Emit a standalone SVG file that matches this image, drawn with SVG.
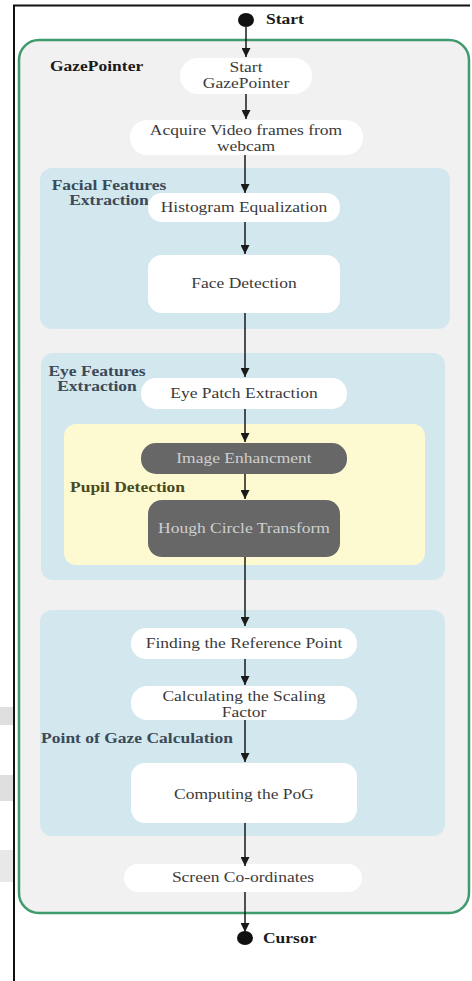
<svg xmlns="http://www.w3.org/2000/svg" width="472" height="981" viewBox="0 0 472 981">
<style>
.frame{fill:none;stroke:#111;stroke-width:2}
.outer{fill:#f1f1f1;stroke:#3f9a6c;stroke-width:2.5}
.region{fill:#d2e7ee}
.pupil{fill:#fdf9d0}
.node{fill:#ffffff}
.dark{fill:#676767}
.t{font-family:"Liberation Serif","Times New Roman",serif;font-size:14px;fill:#3a3a3a;text-anchor:middle}
.td{font-family:"Liberation Serif","Times New Roman",serif;font-size:14px;fill:#cfcfcf;text-anchor:middle}
.lb{font-family:"Liberation Serif","Times New Roman",serif;font-size:14px;font-weight:bold;fill:#3b4a58;text-anchor:middle}
.lbk{font-family:"Liberation Serif","Times New Roman",serif;font-size:14px;font-weight:bold;fill:#1a1a1a;text-anchor:start}
.lbp{font-family:"Liberation Serif","Times New Roman",serif;font-size:14px;font-weight:bold;fill:#4a4a22;text-anchor:start}
.c{stroke:#1a1a1a;stroke-width:1.5;fill:none;marker-end:url(#ah)}
</style>
<defs>
<marker id="ah" viewBox="0 0 10 10" refX="10" refY="5" markerWidth="9" markerHeight="9" markerUnits="userSpaceOnUse" orient="auto">
<path d="M0,0 L10,5 L0,10 z" fill="#1a1a1a"/>
</marker>
</defs>
<rect x="0" y="0" width="472" height="981" fill="#ffffff"/>
<rect x="0" y="707" width="13" height="18" fill="#dedede"/>
<rect x="0" y="775" width="13" height="26" fill="#dedede"/>
<rect x="0" y="850" width="13" height="32" fill="#e8e8e8"/>
<path d="M14,981 L14,5.5 L470,5.5" class="frame"/>

<g id="gazepointer">
<rect class="outer" x="19" y="40" width="450" height="873" rx="20"/>
<text class="lbk" transform="translate(50,71) scale(1.25,1)">GazePointer</text>
</g>

<g id="facial-features-extraction">
<rect class="region" x="40" y="168" width="410" height="161" rx="12"/>
<text class="lb" transform="translate(109,190) scale(1.25,1)">Facial Features</text>
<text class="lb" transform="translate(109,205) scale(1.25,1)">Extraction</text>
</g>

<g id="eye-features-extraction">
<rect class="region" x="41" y="353" width="404" height="227" rx="12"/>
<text class="lb" transform="translate(97,376) scale(1.25,1)">Eye Features</text>
<text class="lb" transform="translate(97,391) scale(1.25,1)">Extraction</text>
</g>

<g id="pupil-detection">
<rect class="pupil" x="64" y="424" width="361" height="141" rx="12"/>
<text class="lbp" transform="translate(70,492) scale(1.25,1)">Pupil Detection</text>
</g>

<g id="point-of-gaze-calculation">
<rect class="region" x="40" y="610" width="405" height="226" rx="12"/>
<text class="lb" transform="translate(137,743) scale(1.25,1)">Point of Gaze Calculation</text>
</g>

<g id="start">
<ellipse cx="246" cy="20" rx="8" ry="7" fill="#111"/>
<text class="lbk" transform="translate(266,24) scale(1.25,1)">Start</text>
</g>

<g id="start-gazepointer">
<rect class="node" x="180" y="58" width="132" height="36" rx="18"/>
<text class="t" transform="translate(246,72) scale(1.25,1)">Start</text>
<text class="t" transform="translate(246,88) scale(1.25,1)">GazePointer</text>
</g>

<g id="acquire-video">
<rect class="node" x="130" y="120" width="233" height="35" rx="17"/>
<text class="t" transform="translate(246,135) scale(1.25,1)">Acquire Video frames from</text>
<text class="t" transform="translate(246,151) scale(1.25,1)">webcam</text>
</g>

<g id="histogram-equalization">
<rect class="node" x="148" y="193" width="192" height="29" rx="14"/>
<text class="t" transform="translate(244,212) scale(1.25,1)">Histogram Equalization</text>
</g>

<g id="face-detection">
<rect class="node" x="148" y="255" width="192" height="58" rx="14"/>
<text class="t" transform="translate(244,288) scale(1.25,1)">Face Detection</text>
</g>

<g id="eye-patch-extraction">
<rect class="node" x="141" y="378" width="206" height="31" rx="15"/>
<text class="t" transform="translate(244,398) scale(1.25,1)">Eye Patch Extraction</text>
</g>

<g id="image-enhancement">
<rect class="dark" x="141" y="443" width="206" height="31" rx="15"/>
<text class="td" transform="translate(244,463) scale(1.25,1)">Image Enhancment</text>
</g>

<g id="hough-circle-transform">
<rect class="dark" x="148" y="500" width="192" height="57" rx="14"/>
<text class="td" transform="translate(244,533) scale(1.25,1)">Hough Circle Transform</text>
</g>

<g id="finding-reference-point">
<rect class="node" x="131" y="628" width="226" height="31" rx="15"/>
<text class="t" transform="translate(244,648) scale(1.25,1)">Finding the Reference Point</text>
</g>

<g id="calculating-scaling-factor">
<rect class="node" x="131" y="686" width="226" height="34" rx="16"/>
<text class="t" transform="translate(244,701) scale(1.25,1)">Calculating the Scaling</text>
<text class="t" transform="translate(244,717) scale(1.25,1)">Factor</text>
</g>

<g id="computing-pog">
<rect class="node" x="131" y="763" width="226" height="60" rx="14"/>
<text class="t" transform="translate(244,799) scale(1.25,1)">Computing the PoG</text>
</g>

<g id="screen-coordinates">
<rect class="node" x="124" y="864" width="238" height="28" rx="14"/>
<text class="t" transform="translate(243,882) scale(1.25,1)">Screen Co-ordinates</text>
</g>

<g id="cursor">
<ellipse cx="245" cy="938" rx="8" ry="7" fill="#111"/>
<text class="lbk" transform="translate(263,943) scale(1.25,1)">Cursor</text>
</g>

<g id="connectors">
<line class="c" x1="246" y1="27" x2="246" y2="57"/>
<line class="c" x1="246" y1="94" x2="246" y2="119"/>
<line class="c" x1="245" y1="155" x2="245" y2="193"/>
<line class="c" x1="245" y1="222" x2="245" y2="254"/>
<line class="c" x1="245" y1="313" x2="245" y2="377"/>
<line class="c" x1="245" y1="409" x2="245" y2="442"/>
<line class="c" x1="245" y1="474" x2="245" y2="499"/>
<line class="c" x1="245" y1="557" x2="245" y2="626"/>
<line class="c" x1="245" y1="659" x2="245" y2="685"/>
<line class="c" x1="245" y1="720" x2="245" y2="762"/>
<line class="c" x1="245" y1="823" x2="245" y2="866"/>
<line class="c" x1="245" y1="892" x2="245" y2="932"/>
</g>
</svg>
